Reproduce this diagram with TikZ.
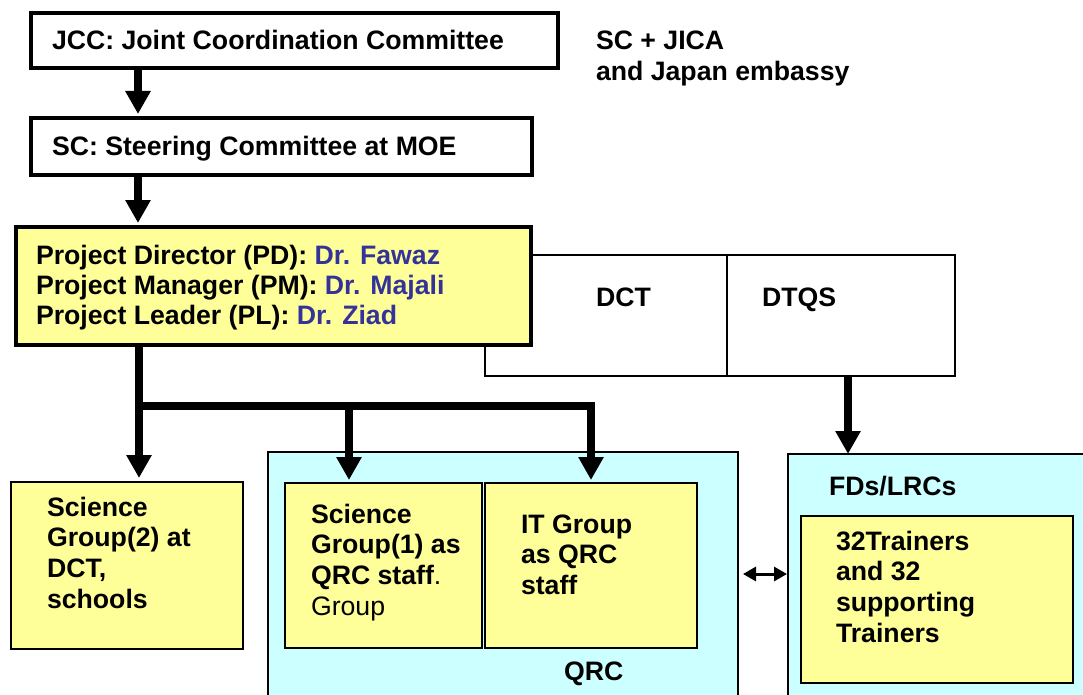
\documentclass[tikz,border=0pt]{standalone}
\usepackage{fontspec}
\setmainfont{Liberation Sans}
\usetikzlibrary{arrows.meta}
\definecolor{boxyellow}{HTML}{FFFF99}
\definecolor{boxcyan}{HTML}{CCFFFF}
\definecolor{namecol}{HTML}{333399}
% strut that fixes the top of a text node 21pt above its first baseline
\newcommand\ts{\rule{0pt}{21pt}}
\begin{document}
\begin{tikzpicture}[x=1pt,y=-1pt,
  box/.style={draw=black, inner sep=0pt, outer sep=0pt, anchor=north west},
  heavybox/.style={box, line width=3.5pt},
  plainbox/.style={box, line width=2pt},
  yellowbox/.style={box, line width=2pt, fill=boxyellow},
  cyanbox/.style={box, line width=2pt, fill=boxcyan},
  txt/.style={inner sep=0pt, outer sep=0pt, anchor=north west, align=left,
    font=\fontsize{26.67}{30.7}\selectfont\bfseries},
  bigarrow/.style={line width=8pt, line join=miter,
    -{Triangle[length=23pt,width=24pt]}},
  dblarrow/.style={line width=3pt,
    {Triangle[length=13pt,width=14pt]}-{Triangle[length=13pt,width=14pt]}}
]
\clip (0,0) rectangle (1083,695);
\fill[white] (0,0) rectangle (1083,695);

% committees
\node[heavybox, minimum width=527pt, minimum height=55pt] (jcc) at (31,13) {};
\node[heavybox, minimum width=501pt, minimum height=57pt] (sc) at (31,118) {};
\node[txt] (jcct) at (52,29) {\ts JCC: Joint Coordination Committee};
\node[txt] (sct) at (52,135) {\ts SC: Steering Committee at MOE};
\node[txt] (note) at (596,29) {\ts SC + JICA\\and Japan embassy};

% departments (partly under the project box)
\node[plainbox, minimum width=242pt, minimum height=121pt] (dct) at (485,255) {};
\node[plainbox, minimum width=228pt, minimum height=121pt] (dtqs) at (727,255) {};
\node[txt] (dctt) at (596,285) {\ts DCT};
\node[txt] (dtqst) at (762,285) {\ts DTQS};

% project management
\node[box, line width=4.5pt, fill=boxyellow, minimum width=515pt, minimum height=118pt] (pd) at (16,227) {};
\node[txt, font=\fontsize{26.67}{30}\selectfont\bfseries] (pdt) at (36,243)
  {\ts Project Director (PD): \textcolor{namecol}{Dr. Fawaz}\\
   Project Manager (PM): \textcolor{namecol}{Dr. Majali}\\
   Project Leader (PL): \textcolor{namecol}{Dr. Ziad}};

% groups
\node[yellowbox, minimum width=232pt, minimum height=167pt] (sg2) at (11,482) {};
\node[txt] (sg2t) at (47,495) {\ts Science\\Group(2) at\\DCT,\\schools};

\node[cyanbox, minimum width=470pt, minimum height=270pt] (qrc) at (268,452) {};
\node[yellowbox, minimum width=197pt, minimum height=165pt] (sg1) at (285,483) {};
\node[yellowbox, minimum width=212pt, minimum height=165pt] (it) at (485,483) {};
\node[txt] (sg1t) at (311,502) {\ts Science\\Group(1) as\\QRC staff{\mdseries .}\\{\mdseries Group}};
\node[txt] (itt) at (521,512) {\ts IT Group\\as QRC\\staff};
\node[txt] (qrct) at (564,659) {\ts QRC};

\node[cyanbox, minimum width=320pt, minimum height=270pt] (fds) at (788,454) {};
\node[txt] (fdst) at (829,474) {\ts FDs/LRCs};
\node[yellowbox, minimum width=272pt, minimum height=167pt] (trn) at (801,516) {};
\node[txt] (trnt) at (836,529) {\ts 32Trainers\\and 32\\supporting\\Trainers};

% connectors
\draw[bigarrow] ([xshift=107pt]jcc.south west) -- ([xshift=107pt,yshift=4pt]sc.north west);
\draw[bigarrow] ([xshift=107pt]sc.south west) -- ([xshift=122pt,yshift=4pt]pd.north west);
\draw[bigarrow] ([xshift=123pt]pd.south west) -- ([xshift=128pt,yshift=4pt]sg2.north west);
\coordinate (branch) at ([xshift=123pt,yshift=-61pt]pd.south west);
\coordinate (sg1in) at ([xshift=64pt,yshift=3pt]sg1.north west);
\coordinate (itin) at ([xshift=106pt,yshift=3pt]it.north west);
\draw[bigarrow] (branch) -| (itin);
\draw[bigarrow] (branch -| sg1in) -- (sg1in);
\draw[bigarrow] ([xshift=121pt]dtqs.south west) -- ([xshift=60pt]fds.north west);
\draw[dblarrow] ([xshift=5pt,yshift=-122pt]qrc.north east) -- ([xshift=-1pt,yshift=-120pt]fds.north west);
\end{tikzpicture}
\end{document}
